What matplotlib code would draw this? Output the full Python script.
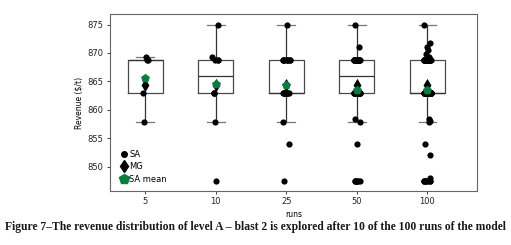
import numpy as np
import matplotlib
matplotlib.use("Agg")
import matplotlib.pyplot as plt
from matplotlib.lines import Line2D

# ── data ─────────────────────────────────────────────────────────────────────
runs = ["5", "10", "25", "50", "100"]

sa_5 = [869.3, 868.8, 868.8, 863.0, 857.9]
sa_10 = [875.0, 869.3, 868.8, 868.8, 868.8, 863.0, 863.0, 863.0, 857.9, 847.5]
sa_25 = ([875.0] + [868.8] * 9 + [863.0] * 12 + [857.9, 853.9, 847.5])
sa_50 = ([875.0, 871.0] + [868.8] * 23 + [863.0] * 15
         + [858.4, 857.9, 853.9] + [847.5] * 7)
sa_100 = ([875.0, 871.7, 871.1, 870.5, 869.9, 869.3] + [868.8] * 30
          + [863.0] * 50 + [858.4, 858.0, 857.9, 853.9, 852.1, 848.0]
          + [847.5] * 8)
sa_values = [sa_5, sa_10, sa_25, sa_50, sa_100]

mg_values = [864.3, 864.3, 864.3, 864.3, 864.3]

GREEN = "#0b7d3e"

fig = plt.figure(figsize=(5.11, 2.45), dpi=100)
ax = fig.add_axes([0.215, 0.2204, 0.718, 0.7212])

pos = np.arange(len(runs))
ax.boxplot(sa_values, positions=pos, widths=0.5, showfliers=False,
           boxprops=dict(color="#4a4a4a", linewidth=0.9),
           medianprops=dict(color="#333333", linewidth=0.9),
           whiskerprops=dict(color="#333333", linewidth=0.9),
           capprops=dict(color="#777777", linewidth=0.9))

# stripplot-like jitter (positions only)
rng = np.random.default_rng(7)
for i, vals in enumerate(sa_values):
    xs = i + rng.uniform(-0.05, 0.05, len(vals))
    ax.scatter(xs, vals, s=20, color="black", zorder=3, linewidths=0)

ax.scatter(pos, mg_values, marker="d", s=45, color="black", zorder=4,
           linewidths=0)
sa_means = [np.mean(v) for v in sa_values]
ax.scatter(pos, sa_means, marker="p", s=45, color=GREEN, zorder=5,
           linewidths=0)

ax.set_xlim(-0.5, 4.7)
ax.set_ylim(845.7, 876.8)
ax.set_xticks(pos)
ax.set_xticklabels(runs)
ax.set_yticks([850, 855, 860, 865, 870, 875])
ax.tick_params(labelsize=6, length=2.5, width=0.6, pad=2, colors="#222222")
ax.set_xlabel("runs", fontsize=5.5, labelpad=3)
ax.set_ylabel("Revenue ($/t)", fontsize=5.5, labelpad=3)
for sp in ax.spines.values():
    sp.set_color("#666666")
    sp.set_linewidth(0.8)

handles = [
    Line2D([], [], ls="none", marker="o", color="black", markersize=4),
    Line2D([], [], ls="none", marker="d", color="black", markersize=6.5),
    Line2D([], [], ls="none", marker="p", color=GREEN, markersize=7),
]
ax.legend(handles, ["SA", "MG", "SA mean"], loc="lower left", frameon=False,
          fontsize=6, handlelength=0.8, handletextpad=0.25, labelspacing=0.45,
          borderaxespad=0.0, bbox_to_anchor=(0.02, 0.02))

fig.text(0.5, 0.073,
         "Figure 7\u2013The revenue distribution of level A \u2013 blast 2 is "
         "explored after 10 of the 100 runs of the model",
         ha="center", va="center", fontsize=8.4, fontweight="bold",
         family="Liberation Serif", color="#1a1a1a")

fig.savefig("out.png", dpi=100)
